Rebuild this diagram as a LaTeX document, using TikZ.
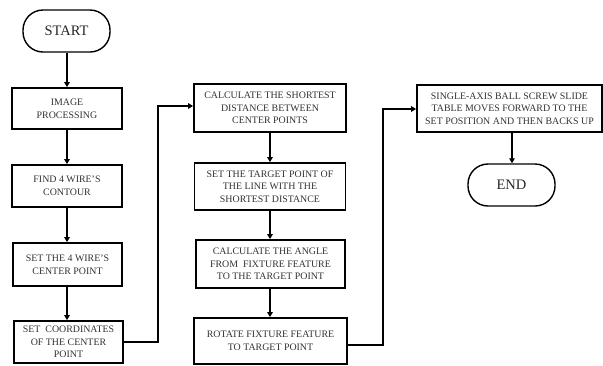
\documentclass[tikz,border=0pt]{standalone}
\usepackage{fontspec}
\setmainfont{Liberation Serif}
\usetikzlibrary{arrows.meta}
\begin{document}
\begin{tikzpicture}[x=1pt,y=-1pt,
  box/.style={draw=black, line width=1.8pt, align=center, inner sep=1pt,
    text=black!80, font=\fontsize{9.9}{12.6}\selectfont},
  term/.style={draw=black, line width=1.4pt, rounded corners=20pt, inner sep=0pt,
    text=black!85, font=\fontsize{14.5}{16}\selectfont},
  arr/.style={line width=1.7pt, -{Triangle[length=5pt,width=5.5pt]}}]
\useasboundingbox (0,0) rectangle (603,365);
\node[term, minimum width=87pt, minimum height=42pt] (start) at (66.5,31) {START};
\node[box, minimum width=110pt, minimum height=41pt] (ip) at (67,108.5) {IMAGE\\PROCESSING};
\node[box, minimum width=110pt, minimum height=42pt] (find) at (67,186) {FIND 4 WIRE'S\\CONTOUR};
\node[box, minimum width=109pt, minimum height=43pt] (setc) at (67.5,264.5) {SET THE 4 WIRE'S\\CENTER POINT};
\node[box, minimum width=109pt, minimum height=42pt] (coord) at (68.5,342) {SET\ \ COORDINATES\\OF THE CENTER\\POINT};
\node[box, minimum width=152pt, minimum height=48pt] (calc) at (270,108) {CALCULATE THE SHORTEST\\DISTANCE BETWEEN\\CENTER POINTS};
\node[box, minimum width=151pt, minimum height=47pt] (target) at (270,186.5) {SET THE TARGET POINT OF\\THE LINE WITH THE\\SHORTEST DISTANCE};
\node[box, minimum width=149pt, minimum height=48pt] (angle) at (270.5,264) {CALCULATE THE ANGLE\\FROM\ \ FIXTURE FEATURE\\TO THE TARGET POINT};
\node[box, minimum width=153pt, minimum height=46pt] (rot) at (270.5,341) {ROTATE FIXTURE FEATURE\\TO TARGET POINT};
\node[box, minimum width=185pt, minimum height=47pt] (single) at (509.5,108.5) {SINGLE-AXIS BALL SCREW SLIDE\\TABLE MOVES FORWARD TO THE\\SET POSITION AND THEN BACKS UP};
\node[term, minimum width=87pt, minimum height=42pt] (end) at (511.5,185) {END};
\coordinate (c1) at (67,0);
\coordinate (c2) at (270,0);
\coordinate (c3) at (512,0);
\draw[arr] (start.south -| c1) -- (ip.north -| c1);
\draw[arr] (ip.south -| c1) -- (find.north -| c1);
\draw[arr] (find.south -| c1) -- (setc.north -| c1);
\draw[arr] (setc.south -| c1) -- (coord.north -| c1);
\draw[arr] (calc.south -| c2) -- (target.north -| c2);
\draw[arr] (target.south -| c2) -- (angle.north -| c2);
\draw[arr] (angle.south -| c2) -- (rot.north -| c2);
\draw[arr] (single.south -| c3) -- (end.north -| c3);
\coordinate (j1a) at (158,342);
\coordinate (j1b) at (158,106);
\coordinate (j2a) at (383,345);
\coordinate (j2b) at (383,109);
\draw[arr] (coord.east |- j1a) -- (j1a) -- (j1b) -- (calc.west |- j1b);
\draw[arr] (rot.east |- j2a) -- (j2a) -- (j2b) -- (single.west |- j2b);
\end{tikzpicture}
\end{document}
